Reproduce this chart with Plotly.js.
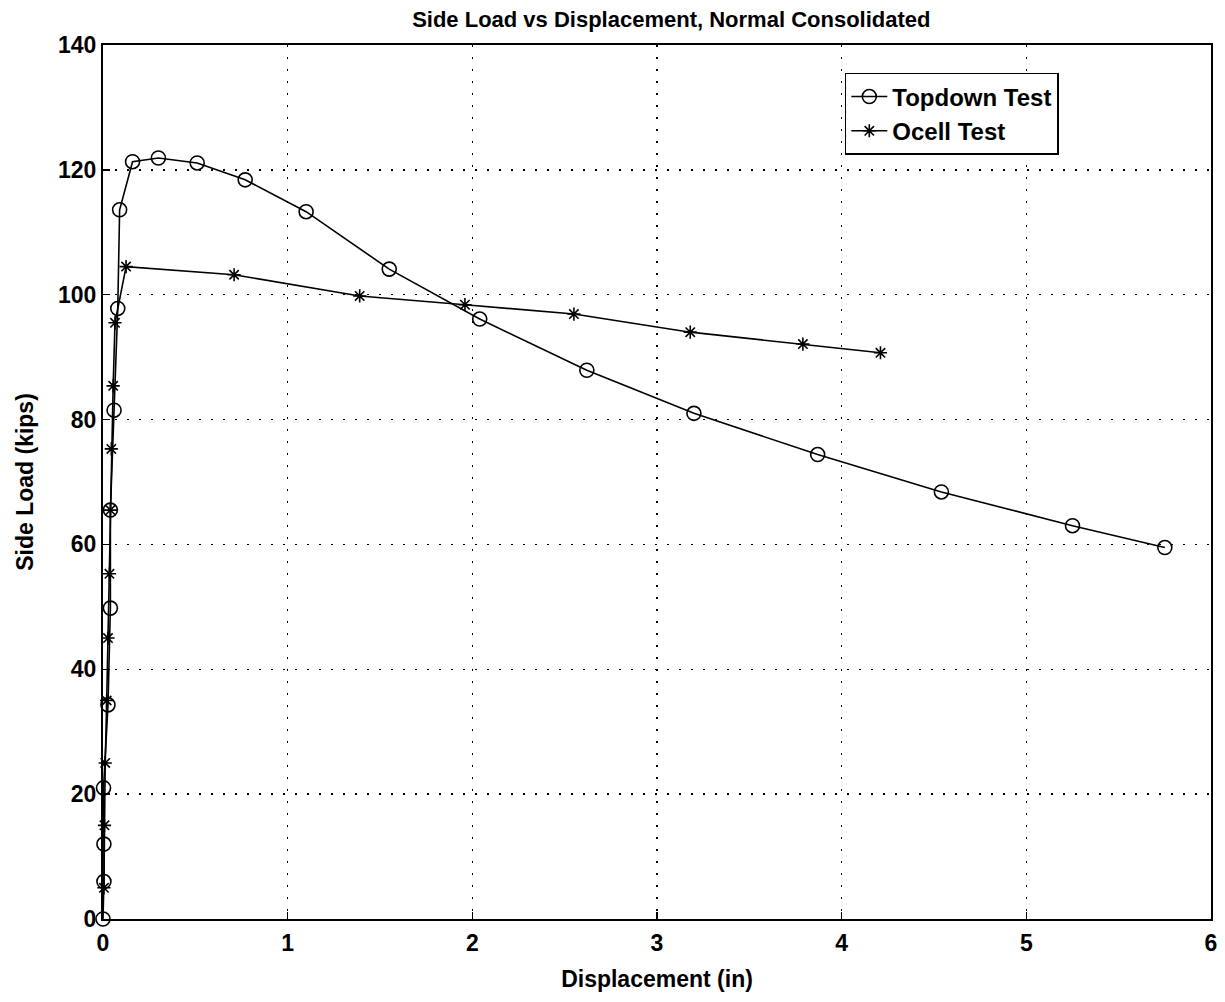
<!DOCTYPE html>
<html><head><meta charset="utf-8">
<script src="https://cdn.plot.ly/plotly-3.0.1.min.js"></script>
<style>body{margin:0;background:#fff}#c{width:1225px;height:1002px}</style>
</head><body><div id="c"></div>
<script>
const topdownX = [0, 0.005, 0.005, 0.003, 0.027, 0.04, 0.04, 0.06, 0.08, 0.09, 0.16, 0.30, 0.51, 0.77, 1.10, 1.55, 2.04, 2.62, 3.20, 3.87, 4.54, 5.25, 5.75];
const topdownY = [0, 6, 12, 21, 34.3, 49.8, 65.5, 81.5, 97.8, 113.6, 121.3, 121.9, 121.1, 118.4, 113.3, 104.1, 96.1, 87.9, 81.0, 74.4, 68.4, 63.0, 59.5];
const ocellX = [0.005, 0.008, 0.012, 0.02, 0.027, 0.035, 0.04, 0.045, 0.055, 0.065, 0.125, 0.71, 1.39, 1.96, 2.55, 3.18, 3.79, 4.21];
const ocellY = [5, 15, 25, 35, 45, 55.3, 65.5, 75.3, 85.4, 95.5, 104.5, 103.2, 99.8, 98.4, 96.9, 94.0, 92.1, 90.7];
const xTicks = [0, 1, 2, 3, 4, 5, 6];
const yTicks = [0, 20, 40, 60, 80, 100, 120, 140];

const F = 'Liberation Sans, Arial, sans-serif';
const traces = [
  {x: topdownX, y: topdownY, name: 'Topdown Test', mode: 'lines+markers', cliponaxis: false,
   line: {color: '#000', width: 1.6},
   marker: {symbol: 'circle-open', size: 14, color: '#000', line: {width: 1.6, color: '#000'}}},
  {x: ocellX, y: ocellY, name: 'Ocell Test', mode: 'lines+markers', cliponaxis: false,
   line: {color: '#000', width: 1.6},
   marker: {symbol: 'asterisk-open', size: 11, color: '#000', line: {width: 1.6, color: '#000'}}}
];
const axisBase = {
  showline: true, mirror: true, linecolor: '#000', linewidth: 2,
  ticks: 'inside', ticklen: 7, tickcolor: '#000', tickwidth: 1.5,
  showgrid: true, gridcolor: '#000', gridwidth: 1.5, griddash: '2px,10px',
  zeroline: false, tickfont: {family: F, size: 23, color: '#000', weight: 'bold'}
};
const layout = {
  width: 1225, height: 1002,
  margin: {l: 103, r: 14, t: 45, b: 83},
  paper_bgcolor: '#fff', plot_bgcolor: '#fff',
  title: {text: '<b>Side Load vs Displacement, Normal Consolidated</b>', font: {family: F, size: 22, color: '#000'},
          x: 0.548, xanchor: 'center', y: 0.988, yanchor: 'top'},
  xaxis: Object.assign({}, axisBase, {range: [0, 6], tickvals: xTicks, ticktext: xTicks.map(String), ticklabelstandoff: 2,
          title: {text: '<b>Displacement (in)</b>', font: {family: F, size: 23, color: '#000'}, standoff: 16}}),
  yaxis: Object.assign({}, axisBase, {range: [0, 140], tickvals: yTicks, ticktext: yTicks.map(String),
          title: {text: '<b>Side Load (kips)</b>', font: {family: F, size: 23, color: '#000'}, standoff: 18}}),
  legend: {x: 0.6695, y: 0.968, xanchor: 'left', yanchor: 'top', bgcolor: '#fff', bordercolor: '#000', borderwidth: 1.5,
           font: {family: F, size: 24, color: '#000', weight: 'bold'}, tracegroupgap: 0, itemwidth: 36},
  showlegend: true
};
Plotly.newPlot('c', traces, layout, {staticPlot: true});
</script></body></html>
